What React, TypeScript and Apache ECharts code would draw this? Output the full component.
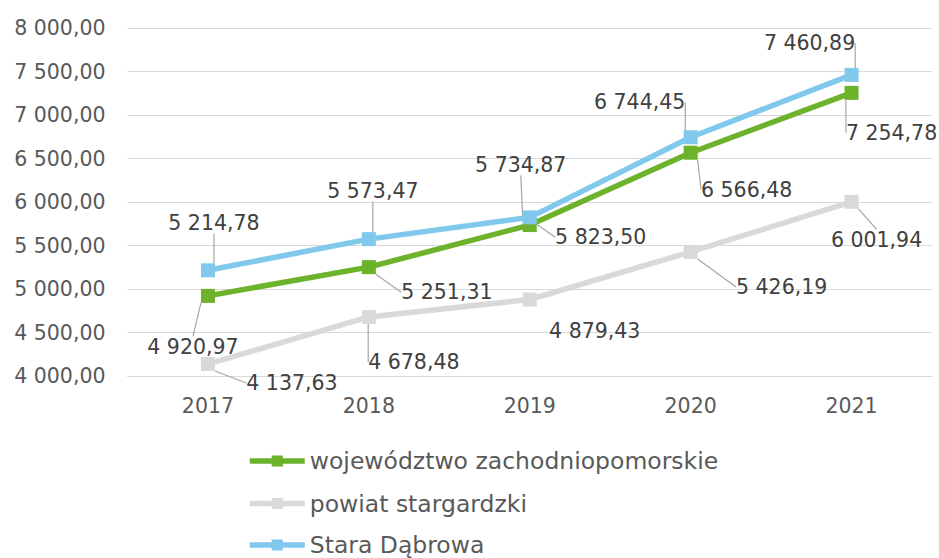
import React, { useEffect, useRef } from "react";
import * as echarts from "echarts";

const YEARS = ["2017", "2018", "2019", "2020", "2021"];
const SERIES_NAMES = ["województwo zachodniopomorskie", "powiat stargardzki", "Stara Dąbrowa"];
const WOJ = [4920.97, 5251.31, 5734.87, 6566.48, 7254.78];
const POWIAT = [4137.63, 4678.48, 4879.43, 5426.19, 6001.94];
const STARA = [5214.78, 5573.47, 5823.5, 6744.45, 7460.89];
const Y_MIN = 4000;
const Y_MAX = 8000;
const Y_STEP = 500;

const COLORS = ["#6DB22B", "#D9D9D9", "#80C9EC"];

// label offsets (dx, dy) from the point, per series / per year
const LABEL_OFFSETS: number[][][] = [
  [[-15, 51], [78, 25], [-9, -60], [56, 37], [40, 40]],
  [[84, 19], [45, 45], [65, 32], [91, 35], [25, 38]],
  [[6, -47], [4, -48], [71, 20], [-51, -35], [-42, -32]],
];
const NO_LEADER = [[], [2], []];

const fmt = (v: number) => {
  const [i, d] = v.toFixed(2).split(".");
  return i.replace(/\B(?=(\d{3})+(?!\d))/g, " ") + "," + d;
};

const FONT = "DejaVu Sans";

export default function App() {
  const ref = useRef<HTMLDivElement>(null);
  useEffect(() => {
    document.body.style.margin = "0";
    if (!ref.current) return;
    const chart = echarts.init(ref.current, null, { renderer: "svg" });
    const all = [WOJ, POWIAT, STARA];
    const legendTops = [448, 490.5, 532];
    chart.setOption({
      animation: false,
      backgroundColor: "#ffffff",
      grid: { left: 127.5, right: 7, top: 28, bottom: 182, containLabel: false },
      legend: SERIES_NAMES.map((n, i) => ({
        orient: "vertical",
        left: 247,
        top: legendTops[i],
        padding: 0,
        itemWidth: 55,
        itemHeight: 14,
        data: [n],
        lineStyle: { width: 5.5 },
        textStyle: { fontFamily: FONT, fontSize: 23.5, color: "#595959", lineHeight: 26 },
      })),
      xAxis: {
        type: "category",
        data: YEARS,
        boundaryGap: true,
        axisLine: { show: true, lineStyle: { color: "#D9D9D9", width: 1 } },
        axisTick: { show: false },
        axisLabel: { fontFamily: FONT, fontSize: 20.5, color: "#595959", margin: 19 },
      },
      yAxis: {
        type: "value",
        min: Y_MIN,
        max: Y_MAX,
        interval: Y_STEP,
        axisLine: { show: false },
        axisTick: { show: false },
        splitLine: { lineStyle: { color: "#D9D9D9", width: 1 } },
        axisLabel: {
          fontFamily: FONT,
          fontSize: 20.5,
          color: "#595959",
          margin: 22,
          formatter: (v: number) => fmt(v),
        },
      },
      series: all.map((arr, si) => ({
        name: SERIES_NAMES[si],
        type: "line",
        data: arr.map((v, i) =>
          NO_LEADER[si].includes(i) ? { value: v, labelLine: { show: false } } : v
        ),
        symbol: "rect",
        symbolSize: 14,
        color: COLORS[si],
        lineStyle: { color: COLORS[si], width: 5.5 },
        itemStyle: { color: COLORS[si] },
        z: 2 + si,
        label: {
          show: true,
          position: "inside",
          fontFamily: FONT,
          fontSize: 20.5,
          color: "#404040",
          formatter: (p: any) => fmt(p.value),
        },
        labelLine: {
          show: true,
          lineStyle: { color: "#A6A6A6", width: 1.2 },
        },
        labelLayout: (p: any) => {
          const o = LABEL_OFFSETS[si][p.dataIndex];
          return { dx: o[0], dy: o[1] };
        },
      })),
    });
    return () => chart.dispose();
  }, []);
  return <div ref={ref} style={{ width: 939, height: 558 }} />;
}
